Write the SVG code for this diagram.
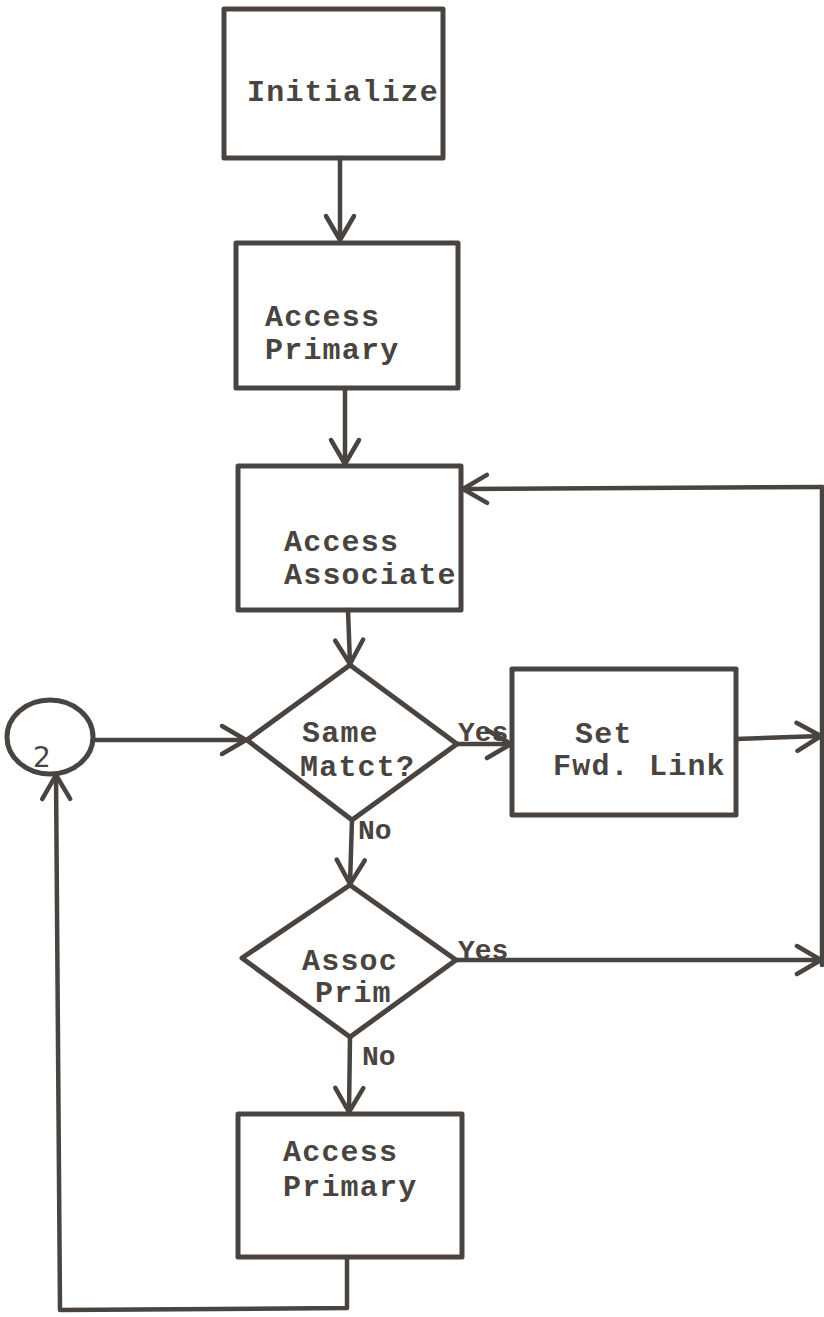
<svg xmlns="http://www.w3.org/2000/svg" width="824" height="1317" viewBox="0 0 824 1317">
<style>
.box{fill:none;stroke:#4a4441;stroke-width:5;stroke-linejoin:round}
.ln{fill:none;stroke:#4a4441;stroke-width:4.5;stroke-linecap:round;stroke-linejoin:round}
.t{font-family:"Liberation Mono","Courier New",monospace;font-size:30px;font-weight:bold;letter-spacing:1.2px;fill:#4a4441}
.s{font-family:"Liberation Mono","Courier New",monospace;font-size:28px;font-weight:bold;fill:#4a4441}
.c{font-family:"DejaVu Sans",sans-serif;font-size:28px;fill:#4a4441}
</style>
<defs>
<marker id="v" markerUnits="userSpaceOnUse" markerWidth="40" markerHeight="40" refX="0" refY="0" viewBox="-30 -20 40 40" orient="auto" overflow="visible">
<path d="M-24,-14 L0,0 L-24,14" fill="none" stroke="#4a4441" stroke-width="4.5" stroke-linecap="round" stroke-linejoin="round"/>
</marker>
</defs>
<rect width="824" height="1317" fill="#ffffff"/>
<g id="n-init">
<rect class="box" x="224" y="9" width="219" height="149"/>
<text class="t" x="247" y="101">Initialize</text>
</g>
<g id="n-access-primary-1">
<rect class="box" x="236" y="243" width="222" height="145"/>
<text class="t" x="265" y="326">Access</text>
<text class="t" x="265" y="359">Primary</text>
</g>
<g id="n-access-associate">
<rect class="box" x="238" y="466" width="223" height="144"/>
<text class="t" x="284" y="551">Access</text>
<text class="t" x="284" y="584">Associate</text>
</g>
<g id="n-same-match">
<polygon class="box" points="350,665 457,744 352,820 247,740"/>
<text class="t" x="302" y="742">Same</text>
<text class="t" x="300" y="776">Matct?</text>
</g>
<g id="n-set-fwd">
<rect class="box" x="512" y="669" width="224" height="146"/>
<text class="t" x="575" y="743">Set</text>
<text class="t" x="553" y="775">Fwd. Link</text>
</g>
<g id="n-assoc-prim">
<polygon class="box" points="350,885 456,960 350,1037 242,958"/>
<text class="t" x="302" y="970">Assoc</text>
<text class="t" x="315" y="1002">Prim</text>
</g>
<g id="n-access-primary-2">
<rect class="box" x="238" y="1114" width="224" height="143"/>
<text class="t" x="283" y="1161">Access</text>
<text class="t" x="283" y="1196">Primary</text>
</g>
<g id="n-connector-2">
<ellipse class="box" cx="50" cy="737" rx="43" ry="37"/>
<text class="c" x="33" y="767">2</text>
</g>
<g id="connectors">
<path class="ln" d="M340,158 L340,240" marker-end="url(#v)"/>
<path class="ln" d="M345,388 L345,464" marker-end="url(#v)"/>
<path class="ln" d="M348,610 L350,664" marker-end="url(#v)"/>
<path class="ln" d="M822,487 L463,489" marker-end="url(#v)"/>
<path class="ln" d="M822,487 L822,965"/>
<path class="ln" d="M93,740 L246,740" marker-end="url(#v)"/>
<path class="ln" d="M457,744 L511,744" marker-end="url(#v)"/>
<path class="ln" d="M736,739 L821,736" marker-end="url(#v)"/>
<path class="ln" d="M352,820 L350,884" marker-end="url(#v)"/>
<path class="ln" d="M456,960 L821,960" marker-end="url(#v)"/>
<path class="ln" d="M350,1037 L349,1112" marker-end="url(#v)"/>
<path class="ln" d="M347,1257 L347,1308 L60,1310 L56,775" marker-end="url(#v)"/>
<text class="s" x="458" y="741">Yes</text>
<text class="s" x="358" y="839">No</text>
<text class="s" x="458" y="959">Yes</text>
<text class="s" x="362" y="1065">No</text>
</g>
</svg>
